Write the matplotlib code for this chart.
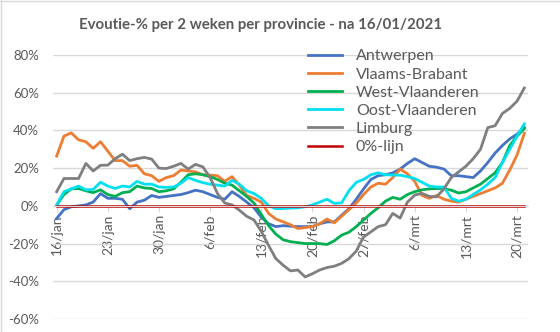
import numpy as np
import matplotlib.pyplot as plt
from matplotlib.lines import Line2D

plt.rcParams['font.family'] = ['Lato', 'DejaVu Sans']

# dagen vanaf 16/01/2021
dagen = np.arange(65)
tick_dagen = [0, 7, 14, 21, 28, 35, 42, 49, 56, 63]
tick_labels = ['16/jan', '23/jan', '30/jan', '6/feb', '13/feb', '20/feb',
               '27/feb', '6/mrt', '13/mrt', '20/mrt']

antwerpen = [-6.7, -2, -0.5, 0, 0.5, 2, 6.5, 4, 4, 3.5,
             -1.5, 2, 3, 5.5, 4.5, 5, 5.5, 6, 7, 8.3,
             7.5, 6, 4.5, 3.5, 7.5, 5, 2, -1, -6, -9.5,
             -11, -10.5, -10.8, -11, -11, -11, -9.5, -8.5, -8.5, -5,
             -1.5, 3.5, 9, 14, 16, 16.5, 17.5, 19.5, 22.5, 25,
             23, 21, 20.5, 19.5, 16, 16, 15.5, 15, 18.5, 23,
             28, 32, 35.5, 38, 41.5]
vlaams_brabant = [26.4, 37, 38.7, 35, 34, 30.5, 34, 29, 24, 24,
                  21, 21.5, 17, 16, 13, 15, 16, 19, 18.5, 18,
                  16.5, 16.3, 16, 13, 15.5, 11, 5.5, 4, 2, -4,
                  -7, -8.5, -10, -12, -11.5, -11, -9.5, -7, -9, -5.5,
                  -2, 1.5, 6, 10, 12, 11.5, 15, 19.5, 17, 13,
                  5.5, 4, 5.5, 3.5, 2.5, 2, 3.5, 5, 6.5, 8,
                  9.5, 12, 19, 27, 38.5]
west_vlaanderen = [0.4, 6, 9, 9.2, 8, 7, 8.5, 6, 5, 7,
                   7.5, 10.5, 9.5, 9.2, 7.5, 8, 9, 12.5, 16.5, 17,
                   16.5, 15.5, 14, 12, 11, 8, 5, 1.5, -4.5, -10.5,
                   -15, -18, -19, -19.5, -20, -20, -20, -20.5, -18.5, -15.5,
                   -14, -11, -7.5, -4, -1, 2.5, 4.5, 3.5, 6, 7.5,
                   8.5, 9, 9.2, 9.2, 8.3, 6.8, 7.5, 9.5, 11.5, 14.5,
                   17.5, 23, 32, 37, 41]
oost_vlaanderen = [0.4, 7.5, 9, 10.5, 8.5, 8.7, 12.5, 10.5, 9.2, 10.5,
                   10, 13, 11.5, 11.5, 10, 9.8, 10, 12, 15, 13.5,
                   12.3, 11.5, 11, 10.5, 13.5, 11.5, 8, 6.5, 4, 0,
                   -1.5, -1.4, -1.2, -1, -0.5, 0.5, 2, 3.5, 1.3, 1.6,
                   8, 12.5, 14, 16.5, 17.5, 16.5, 16.3, 16.3, 15.5, 14.5,
                   12.5, 10.5, 10, 10, 4, 2.5, 3.5, 6, 8.5, 11.5,
                   15, 23, 30, 37, 43.5]
limburg = [7.5, 14.5, 14.5, 14.5, 22.5, 18.5, 21.5, 21.6, 25, 27.4,
           24, 25, 25.7, 24.8, 20, 19.8, 21, 22.5, 19.5, 22,
           20.7, 15, 6.6, 1.5, 0.5, -2.3, -5.5, -7.5, -13.5, -21,
           -28, -31.5, -34.5, -34, -37.7, -36, -34, -32.7, -32, -30.5,
           -28, -24, -16.5, -13.8, -11, -10, -4, -6.5, 2, 5.7,
           6.6, 5, 4.8, 9, 15, 18, 21, 25, 30, 41.5,
           42.5, 49, 51.7, 55.5, 62.5]
nul_lijn = [0] * 65

reeksen = [
    ('Antwerpen', antwerpen, '#4472C4'),
    ('Vlaams-Brabant', vlaams_brabant, '#ED7D31'),
    ('West-Vlaanderen', west_vlaanderen, '#00B050'),
    ('Oost-Vlaanderen', oost_vlaanderen, '#00E0F0'),
    ('Limburg', limburg, '#7F7F7F'),
]

tekst_kleur = '#595959'

fig = plt.figure(figsize=(5.6, 3.32), dpi=100)
ax = fig.add_axes([53 / 560, 1 - 319 / 332, 475 / 560, 264 / 332])

for naam, waarden, kleur in reeksen:
    ax.plot(dagen, waarden, color=kleur, linewidth=2.0, label=naam,
            solid_joinstyle='round')
ax.plot(dagen, nul_lijn, color='#C00000', linewidth=1.8, label='0%-lijn')

ax.set_xlim(-0.5, 64.5)
ax.set_ylim(-60, 80)
ax.set_yticks(np.arange(-60, 81, 20))
ax.set_yticklabels([f'{v}%' for v in range(-60, 81, 20)])
ax.yaxis.grid(True, color='#D9D9D9', linewidth=1)
ax.set_axisbelow(True)

# x-as kruist op 0%
for s in ['top', 'right', 'left']:
    ax.spines[s].set_visible(False)
ax.spines['bottom'].set_position(('data', 0))
ax.spines['bottom'].set_color('#D9D9D9')
ax.set_xticks(tick_dagen)
ax.set_xticklabels(tick_labels, rotation=90, ha='center', va='top')
ax.tick_params(axis='x', colors=tekst_kleur, length=4, color='#D9D9D9',
               labelsize=10, pad=2)
ax.tick_params(axis='y', colors=tekst_kleur, length=0, labelsize=9.5, pad=10)

leg = ax.legend(loc='upper left', bbox_to_anchor=(0.537, 1.022), frameon=False,
                fontsize=11.5, handlelength=2.1, handletextpad=0.9,
                labelspacing=0.25, borderpad=0, borderaxespad=0)
for t in leg.get_texts():
    t.set_color(tekst_kleur)

fig.text(261 / 560, 1 - 25 / 332, 'Evoutie-% per 2 weken per provincie - na 16/01/2021',
         ha='center', va='center', fontsize=10.8, fontweight='bold',
         color=tekst_kleur)

# rand van het grafiekvlak
fig.add_artist(Line2D([0.002, 0.002], [0, 1], color='#D9D9D9', linewidth=1,
                      transform=fig.transFigure))
fig.add_artist(Line2D([0, 1], [0.998, 0.998], color='#D9D9D9', linewidth=1,
                      transform=fig.transFigure))

fig.savefig('out.png', dpi=100, facecolor='white')
